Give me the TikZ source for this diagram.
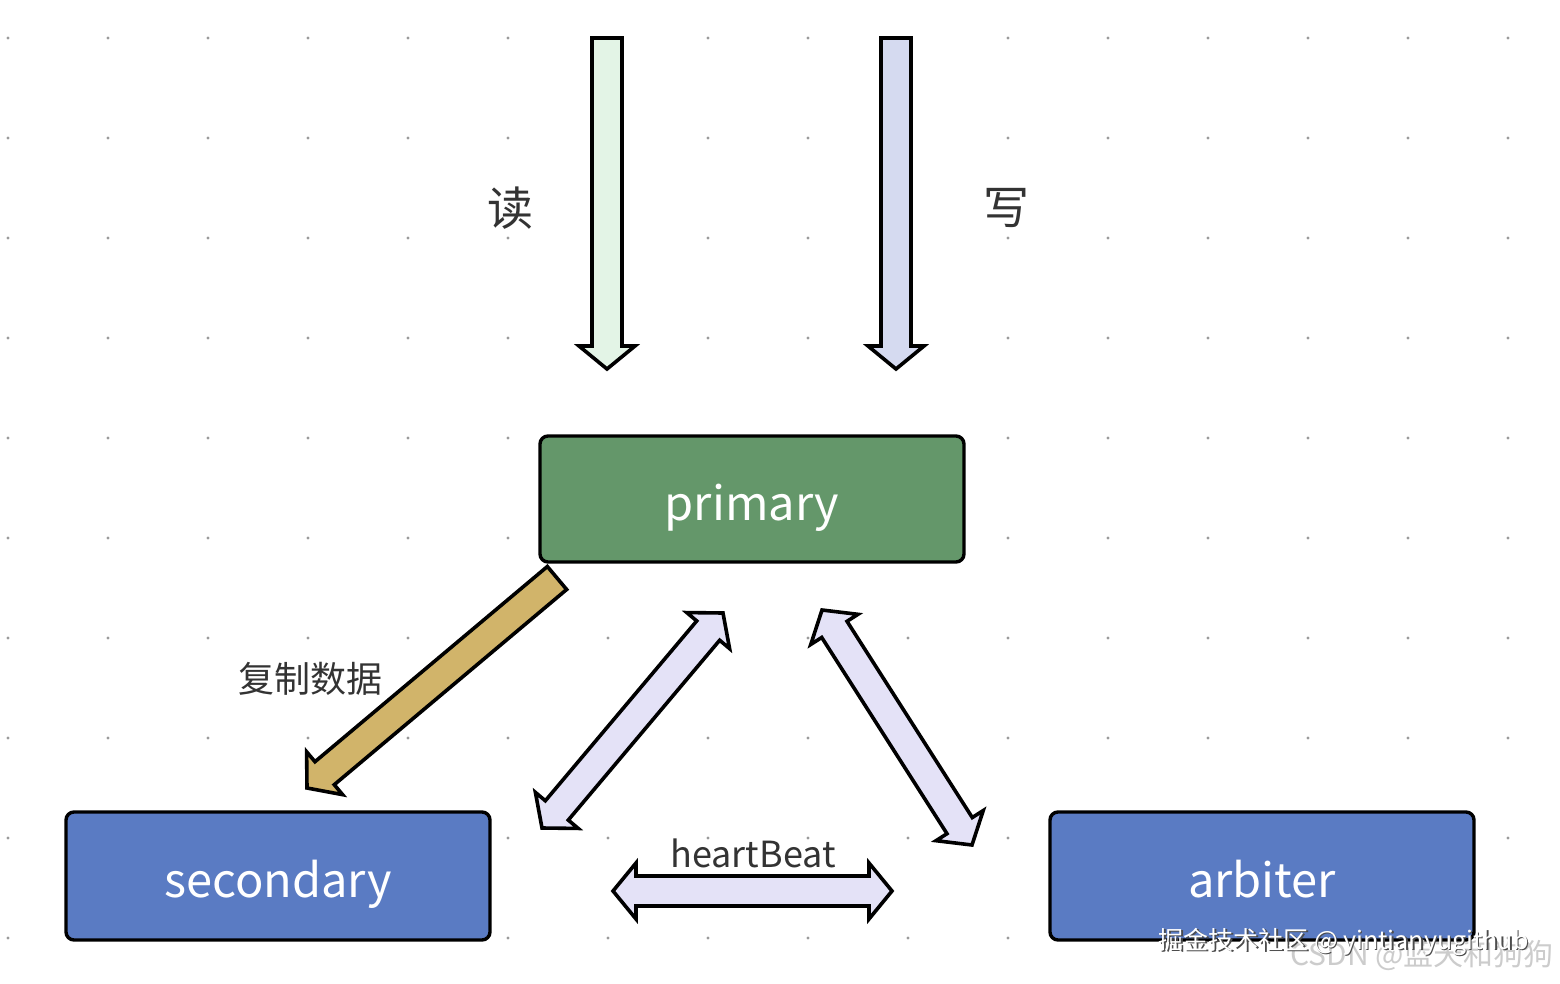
\documentclass[tikz,border=0pt]{standalone}
\usepackage{fontspec}
\setmainfont{Noto Sans CJK SC}
\usetikzlibrary{calc}
\definecolor{primaryc}{HTML}{64976A}
\definecolor{bluec}{HTML}{5A7BC3}
\definecolor{readc}{HTML}{E3F4E6}
\definecolor{writec}{HTML}{D5DAF0}
\definecolor{hbc}{HTML}{E4E2F7}
\definecolor{copyc}{HTML}{D1B46A}
\definecolor{txtc}{HTML}{333333}
\definecolor{dotc}{HTML}{9A9A9A}
% single block arrow: #1 start, #2 tip, #3 fill, #4 prefix
\newcommand\blockarrowone[4]{%
  \coordinate (#4h) at ($(#2)!23pt!(#1)$);
  \path[draw=black,line width=3.6pt,line join=miter,fill=#3]
    ($(#1)!15pt!90:(#2)$) -- ($(#4h)!15pt!90:(#2)$) -- ($(#4h)!28pt!90:(#2)$)
    -- (#2) -- ($(#4h)!28pt!-90:(#2)$) -- ($(#4h)!15pt!-90:(#2)$)
    -- ($(#1)!15pt!-90:(#2)$) -- cycle;}
% double block arrow
\newcommand\blockarrowtwo[4]{%
  \coordinate (#4a) at ($(#1)!23pt!(#2)$);
  \coordinate (#4b) at ($(#2)!23pt!(#1)$);
  \path[draw=black,line width=3.6pt,line join=miter,fill=#3]
    (#1) -- ($(#4a)!28pt!90:(#2)$) -- ($(#4a)!15pt!90:(#2)$)
    -- ($(#4b)!15pt!-90:(#1)$) -- ($(#4b)!28pt!-90:(#1)$)
    -- (#2) -- ($(#4b)!28pt!90:(#1)$) -- ($(#4b)!15pt!90:(#1)$)
    -- ($(#4a)!15pt!-90:(#2)$) -- ($(#4a)!28pt!-90:(#2)$) -- cycle;}
\tikzset{
  box/.style={draw=black,line width=3.4pt,rounded corners=8pt,minimum width=424pt,
    minimum height=126pt,inner sep=0pt,text=white,text height=42pt,text depth=0pt,
    font=\fontsize{47}{50}\selectfont},
  lbl/.style={text=txtc,inner sep=0pt},
}
\begin{document}
\begin{tikzpicture}[x=1pt,y=-1pt]
\useasboundingbox[fill=white] (0,0) rectangle (1560,984);
% dot grid
\foreach \i in {0,...,15}{\foreach \j in {0,...,9}{
  \fill[dotc] (8+100*\i,38+100*\j) circle (1.7pt);}}
% boxes
\node[box,fill=primaryc] (primary) at (752,499) {primary};
\node[box,fill=bluec,minimum height=128pt] (secondary) at (278,876) {secondary};
\node[box,fill=bluec,minimum height=128pt] (arbiter) at (1262,876) {arbiter};
% read / write arrows
\coordinate (rs) at (607,38); \coordinate (rt) at (607,369);
\coordinate (ws) at (896,38); \coordinate (wt) at (896,369);
\blockarrowone{rs}{rt}{readc}{r}
\blockarrowone{ws}{wt}{writec}{w}
\node[lbl,font=\fontsize{46}{48}\selectfont] (readl) at (510,208) {读};
\node[lbl,font=\fontsize{46}{48}\selectfont] (writel) at (1006,208) {写};
% copy arrow
\coordinate (cs) at (557,578); \coordinate (ct) at (307,788);
\blockarrowone{cs}{ct}{copyc}{c}
\node[lbl,font=\fontsize{36}{38}\selectfont] (copyl) at (310,679) {复制数据};
% heartbeat arrows
\coordinate (l1) at (542,828); \coordinate (l2) at (723,613);
\blockarrowtwo{l1}{l2}{hbc}{la}
\coordinate (m1) at (822,610); \coordinate (m2) at (972,845);
\blockarrowtwo{m1}{m2}{hbc}{ma}
\coordinate (h1) at (613,891); \coordinate (h2) at (892,891);
\blockarrowtwo{h1}{h2}{hbc}{ha}
\node[lbl,font=\fontsize{36}{38}\selectfont] (hbl) at (753,853) {heartBeat};
% watermarks
\node[text=gray!40,inner sep=0pt,font=\fontsize{30}{32}\selectfont] (wm2) at (1422,955) {CSDN @蓝天和狗狗};
\node[text=black!70,inner sep=0pt,font=\fontsize{25}{27}\selectfont] (wm1s) at (1345,943.5) {掘金技术社区 @ yintianyugithub};
\node[text=white,inner sep=0pt,font=\fontsize{25}{27}\selectfont] (wm1) at (1343.5,942) {掘金技术社区 @ yintianyugithub};
\end{tikzpicture}
\end{document}
